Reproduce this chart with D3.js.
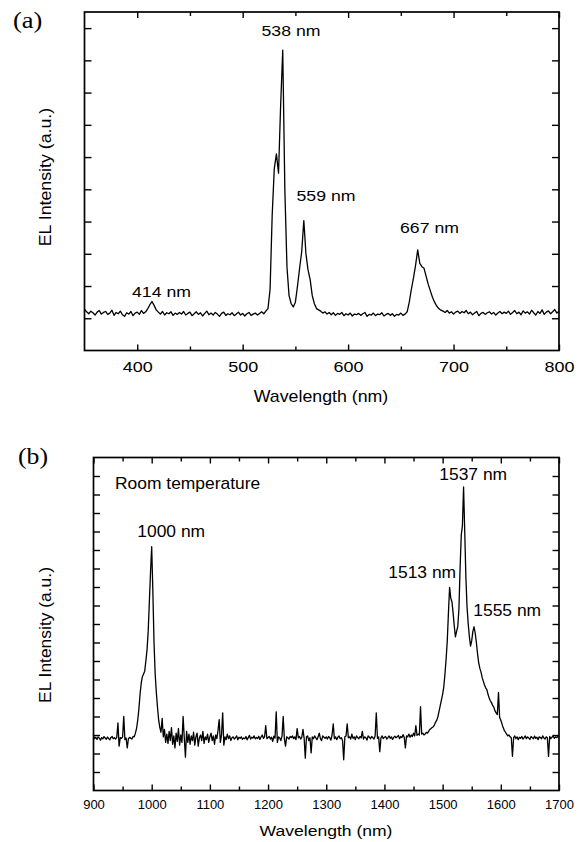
<!DOCTYPE html>
<html>
<head>
<meta charset="utf-8">
<script src="https://cdn.jsdelivr.net/npm/d3@7"></script>
<style>
  body { margin: 0; background: #fff; }
  svg { display: block; }
  text { font-family: "Liberation Sans", Arial, Helvetica, sans-serif; fill: #000; }
</style>
</head>
<body>
<svg id="chart" width="585" height="842"></svg>
<script>

// (a) visible EL spectrum, 350-800 nm, one reading every 2 nm
var visStart = 350, visStep = 2;
var visIntensity = [
    1.28, 1.20, 1.14, 1.22, 1.17, 1.10, 1.19, 1.24, 1.13, 1.18,
    1.21, 1.12, 1.16, 1.25, 1.09, 1.18, 1.14, 1.22, 1.11, 1.06,
    1.17, 1.13, 1.21, 1.08, 1.16, 1.19, 1.12, 1.24, 1.15, 1.20,
    1.30, 1.42, 1.52, 1.40, 1.26, 1.19, 1.13, 1.21, 1.10, 1.17,
    1.14, 1.20, 1.09, 1.16, 1.12, 1.18, 1.13, 1.21, 1.10, 1.15,
    1.19, 1.08, 1.14, 1.20, 1.12, 1.17, 1.07, 1.15, 1.22, 1.11,
    1.16, 1.10, 1.18, 1.13, 1.06, 1.15, 1.19, 1.09, 1.14, 1.11,
    1.17, 1.08, 1.13, 1.19, 1.10, 1.15, 1.07, 1.14, 1.18, 1.09,
    1.13, 1.16, 1.10, 1.15, 1.20, 1.14, 1.22, 1.30, 1.90, 4.20,
    5.65, 6.10, 5.50, 7.60, 9.32, 5.00, 2.60, 1.70, 1.45, 1.35,
    1.50, 2.00, 2.55, 3.07, 4.03, 3.00, 2.50, 2.20, 1.70, 1.45,
    1.30, 1.26, 1.22, 1.16, 1.20, 1.13, 1.18, 1.11, 1.17, 1.09,
    1.15, 1.12, 1.18, 1.08, 1.14, 1.10, 1.16, 1.07, 1.13, 1.11,
    1.15, 1.09, 1.14, 1.18, 1.06, 1.12, 1.10, 1.16, 1.08, 1.13,
    1.11, 1.17, 1.07, 1.12, 1.15, 1.09, 1.14, 1.06, 1.12, 1.10,
    1.16, 1.09, 1.13, 1.20, 1.50, 1.90, 2.25, 2.65, 3.12, 2.70,
    2.60, 2.55, 2.30, 2.05, 1.85, 1.65, 1.50, 1.38, 1.30, 1.25,
    1.22, 1.18, 1.24, 1.16, 1.20, 1.13, 1.19, 1.22, 1.15, 1.21,
    1.17, 1.24, 1.14, 1.19, 1.11, 1.16, 1.21, 1.08, 1.15, 1.18,
    1.12, 1.17, 1.20, 1.13, 1.18, 1.10, 1.16, 1.21, 1.14, 1.19,
    1.15, 1.22, 1.12, 1.18, 1.24, 1.14, 1.19, 1.11, 1.23, 1.16,
    1.20, 1.13, 1.25, 1.17, 1.10, 1.21, 1.15, 1.26, 1.12, 1.19,
    1.23, 1.14, 1.20, 1.27, 1.16, 1.22
];
var visXDomain = [350, 800];
var visYDomain = [0, 10.5];
var visMajorTicks = [400, 500, 600, 700, 800];
var visMinorTicks = [450, 550, 650, 750];
var visYTicks = [1, 2, 3, 4, 5, 6, 7, 8, 9, 10];
var visPeakLabels = ['414 nm', '538 nm', '559 nm', '667 nm'];

// (b) near-infrared EL spectrum, 900-1700 nm, one reading every 2 nm
var nirStart = 900, nirStep = 2;
var nirIntensity = [
    2.95, 2.80, 2.88, 2.76, 2.90, 2.83, 2.72, 2.86, 2.79, 2.91,
    2.84, 2.77, 2.89, 2.81, 2.74, 2.87, 2.92, 2.80, 2.85, 2.78,
    2.88, 3.65, 2.40, 2.86, 2.82, 2.90, 4.00, 2.75, 2.84, 2.30,
    2.80, 2.87, 2.83, 2.78, 2.92, 2.90, 3.10, 3.35, 3.80, 4.40,
    5.20, 5.80, 6.15, 6.30, 6.45, 7.00, 7.60, 8.60, 10.2, 11.8,
    13.18, 10.8, 8.00, 6.30, 5.30, 4.50, 3.80, 3.40, 3.15, 3.90,
    2.90, 3.30, 2.60, 3.05, 2.55, 3.20, 2.70, 3.40, 2.50, 2.95,
    2.30, 3.10, 2.65, 3.35, 2.45, 3.00, 2.60, 4.00, 2.85, 1.80,
    3.20, 2.60, 3.05, 2.50, 2.95, 2.70, 3.15, 2.45, 2.90, 3.10,
    2.40, 2.85, 3.00, 2.70, 3.20, 2.55, 2.90, 2.75, 3.05, 2.60,
    2.90, 3.10, 2.70, 2.95, 2.50, 3.00, 2.80, 3.25, 3.83, 2.60,
    3.00, 4.20, 2.45, 2.90, 2.75, 3.05, 2.80, 2.95, 2.70, 2.85,
    2.90, 2.78, 2.85, 2.95, 2.74, 2.88, 2.82, 2.90, 2.76, 2.84,
    2.80, 2.92, 2.74, 2.86, 2.98, 2.78, 2.88, 2.83, 2.95, 2.79,
    2.87, 2.81, 2.93, 2.76, 2.89, 3.00, 2.82, 2.90, 3.50, 2.80,
    2.86, 2.92, 2.78, 2.88, 2.65, 2.94, 2.83, 4.25, 2.60, 2.90,
    2.84, 2.70, 2.95, 4.00, 2.80, 2.40, 2.90, 2.85, 2.78, 2.92,
    2.86, 2.95, 2.80, 2.90, 2.75, 3.35, 2.85, 2.92, 2.78, 2.88,
    3.30, 2.82, 1.75, 2.90, 2.95, 2.70, 2.85, 2.03, 2.90, 2.80,
    2.95, 2.85, 2.75, 2.90, 3.10, 2.80, 2.70, 2.95, 2.88, 2.82,
    2.90, 2.78, 2.92, 2.85, 2.72, 3.00, 3.60, 2.80, 2.90, 2.75,
    2.88, 2.95, 2.80, 2.85, 2.70, 1.66, 2.90, 2.95, 3.60, 2.85,
    2.90, 2.78, 3.05, 2.82, 2.90, 2.75, 2.95, 2.86, 2.80, 2.92,
    2.84, 3.20, 2.78, 2.90, 2.85, 2.72, 2.95, 2.88, 2.80, 2.92,
    2.86, 2.78, 2.95, 4.20, 2.82, 2.90, 2.10, 2.85, 2.95, 2.80,
    2.88, 2.92, 2.78, 2.86, 2.95, 2.82, 2.90, 2.76, 2.88, 2.94,
    2.85, 2.90, 2.98, 2.80, 2.92, 2.86, 3.02, 2.88, 2.30, 2.95,
    2.90, 3.05, 2.88, 3.00, 2.92, 3.10, 2.95, 3.50, 2.98, 3.05,
    3.00, 4.53, 3.05, 3.10, 3.00, 3.05, 3.15, 3.10, 3.20, 3.30,
    3.35, 3.40, 3.45, 3.55, 3.70, 3.80, 4.00, 4.30, 4.60, 4.90,
    5.20, 5.60, 6.30, 7.10, 8.10, 9.60, 10.98, 10.4, 10.2, 9.60,
    8.90, 8.30, 8.60, 8.85, 9.80, 12.0, 13.8, 14.3, 16.41, 14.0,
    11.5, 9.90, 9.00, 8.30, 7.80, 8.10, 8.60, 8.85, 8.50, 8.00,
    7.40, 6.90, 6.60, 6.40, 6.10, 5.90, 5.70, 5.55, 5.45, 5.20,
    5.00, 4.85, 4.75, 4.60, 4.50, 4.30, 4.20, 4.10, 5.30, 3.95,
    3.80, 3.60, 3.40, 3.25, 3.15, 3.05, 2.95, 3.00, 2.90, 2.85,
    1.85, 2.85, 2.95, 2.80, 2.90, 2.75, 2.88, 2.82, 2.92, 2.78,
    2.86, 2.95, 2.80, 2.90, 2.84, 2.76, 2.92, 2.85, 2.80, 2.94,
    2.82, 2.88, 2.75, 2.90, 2.86, 2.80, 2.95, 2.84, 2.78, 2.90,
    2.85, 1.84, 2.92, 2.80, 2.88, 2.95, 2.82, 2.90, 2.86, 2.92,
    2.88
];
var nirXDomain = [900, 1700];
var nirYDomain = [0, 18];
var nirMajorTicks = [900, 1000, 1100, 1200, 1300, 1400, 1500, 1600, 1700];
var nirMinorTicks = [950, 1050, 1150, 1250, 1350, 1450, 1550, 1650];
var nirYTicks = [1, 2, 3, 4, 5, 6, 7, 8, 9, 10, 11, 12, 13, 14, 15, 16, 17];
var nirPeakLabels = ['1000 nm', '1537 nm', '1513 nm', '1555 nm'];


var svg = d3.select('#chart');


// small helper for free text, sx stretches the glyphs horizontally
function addText(str, o) {
    var tf = 'translate(' + o.x + ',' + o.y + ')';
    if (o.rotate) tf += ' rotate(' + o.rotate + ')';
    tf += ' scale(' + (o.sx || 1) + ',1)';
    var t = svg.append('text')
        .attr('transform', tf)
        .attr('font-size', o.size)
        .attr('text-anchor', o.anchor || 'start')
        .text(str);
    if (o.serif) t.style('font-family', '"Liberation Serif", "Times New Roman", serif');
    return t;
}


function drawPanel(box, cfg) {
    var x = d3.scaleLinear().domain(cfg.xDomain).range([box.left, box.right]);
    var y = d3.scaleLinear().domain(cfg.yDomain).range([box.bottom, box.top]);
    var g = svg.append('g');

    // tick marks only, pointing inwards on all four sides
    function ticks(axis, tf) {
        g.append('g').attr('transform', tf).call(axis)
            .call(function(a) {
                a.select('.domain').remove();
                a.selectAll('text').remove();
                a.selectAll('line').attr('stroke', '#000').attr('stroke-width', 1.4);
            });
    }
    var noLabel = function() { return ''; };
    ticks(d3.axisBottom(x).tickValues(cfg.major).tickSize(-6).tickFormat(noLabel), 'translate(0,' + box.bottom + ')');
    ticks(d3.axisBottom(x).tickValues(cfg.minor).tickSize(-4).tickFormat(noLabel), 'translate(0,' + box.bottom + ')');
    ticks(d3.axisTop(x).tickValues(cfg.major).tickSize(-6).tickFormat(noLabel), 'translate(0,' + box.top + ')');
    ticks(d3.axisTop(x).tickValues(cfg.minor).tickSize(-4).tickFormat(noLabel), 'translate(0,' + box.top + ')');
    ticks(d3.axisLeft(y).tickValues(cfg.yTicks).tickSize(-cfg.yTickLen).tickFormat(noLabel), 'translate(' + box.left + ',0)');
    ticks(d3.axisRight(y).tickValues(cfg.yTicks).tickSize(-cfg.yTickLen).tickFormat(noLabel), 'translate(' + box.right + ',0)');

    // x tick labels
    g.append('g')
        .attr('transform', 'translate(0,' + box.bottom + ')')
        .call(d3.axisBottom(x).tickValues(cfg.major).tickSize(0).tickPadding(cfg.labelPad).tickFormat(d3.format('d')))
        .call(function(a) {
            a.select('.domain').remove();
            a.selectAll('line').remove();
            a.attr('font-size', cfg.labelSize).attr('font-family', null);
            a.selectAll('text').attr('fill', '#000').attr('transform', 'scale(' + cfg.labelSx + ',1)');
        });

    // spectrum
    var line = d3.line()
        .x(function(d, i) { return x(cfg.start + i * cfg.step); })
        .y(function(d) { return y(d); });

    g.append('path')
        .datum(cfg.data)
        .attr('d', line)
        .attr('fill', 'none')
        .attr('stroke', '#000')
        .attr('stroke-width', 1.3)
        .attr('stroke-linejoin', 'round');

    // frame
    g.append('rect')
        .attr('x', box.left).attr('y', box.top)
        .attr('width', box.right - box.left).attr('height', box.bottom - box.top)
        .attr('fill', 'none')
        .attr('stroke', '#000')
        .attr('stroke-width', 1.7);
}


// Panel (a)
drawPanel({ left: 84.5, right: 559, top: 12, bottom: 350.5 }, {
    xDomain: visXDomain, yDomain: visYDomain,
    major: visMajorTicks, minor: visMinorTicks, yTicks: visYTicks, yTickLen: 7,
    labelSize: 15, labelSx: 1.2, labelPad: 11,
    start: visStart, step: visStep, data: visIntensity
});

addText('(a)', { x: 13, y: 27.5, size: 23, sx: 1.15, serif: true });
addText('EL Intensity (a.u.)', { x: 51, y: 177, size: 16, sx: 1.11, rotate: -90, anchor: 'middle' });
addText('Wavelength (nm)', { x: 321, y: 401.5, size: 16, sx: 1.11, anchor: 'middle' });

var visLabelPos = [[132, 297.3], [261.5, 35.7], [296.5, 201], [400, 233.3]];
visPeakLabels.forEach(function(s, i) {
    addText(s, { x: visLabelPos[i][0], y: visLabelPos[i][1], size: 14.5, sx: 1.22 });
});


// Panel (b)
drawPanel({ left: 93.5, right: 559, top: 457.5, bottom: 790.5 }, {
    xDomain: nirXDomain, yDomain: nirYDomain,
    major: nirMajorTicks, minor: nirMinorTicks, yTicks: nirYTicks, yTickLen: 6.5,
    labelSize: 13, labelSx: 1, labelPad: 9.5,
    start: nirStart, step: nirStep, data: nirIntensity
});

addText('(b)', { x: 18, y: 464, size: 23, sx: 1.12, serif: true });
addText('EL Intensity (a.u.)', { x: 50.5, y: 635, size: 16, sx: 1.09, rotate: -90, anchor: 'middle' });
addText('Wavelength (nm)', { x: 326, y: 835.5, size: 15, sx: 1.17, anchor: 'middle' });
addText('Room temperature', { x: 115, y: 489, size: 16, sx: 1.09 });

var nirLabelPos = [[137.3, 536.7], [439.3, 480], [388.3, 578.3], [473.3, 615.7]];
nirPeakLabels.forEach(function(s, i) {
    addText(s, { x: nirLabelPos[i][0], y: nirLabelPos[i][1], size: 16, sx: 1.09 });
});

</script>
</body>
</html>
